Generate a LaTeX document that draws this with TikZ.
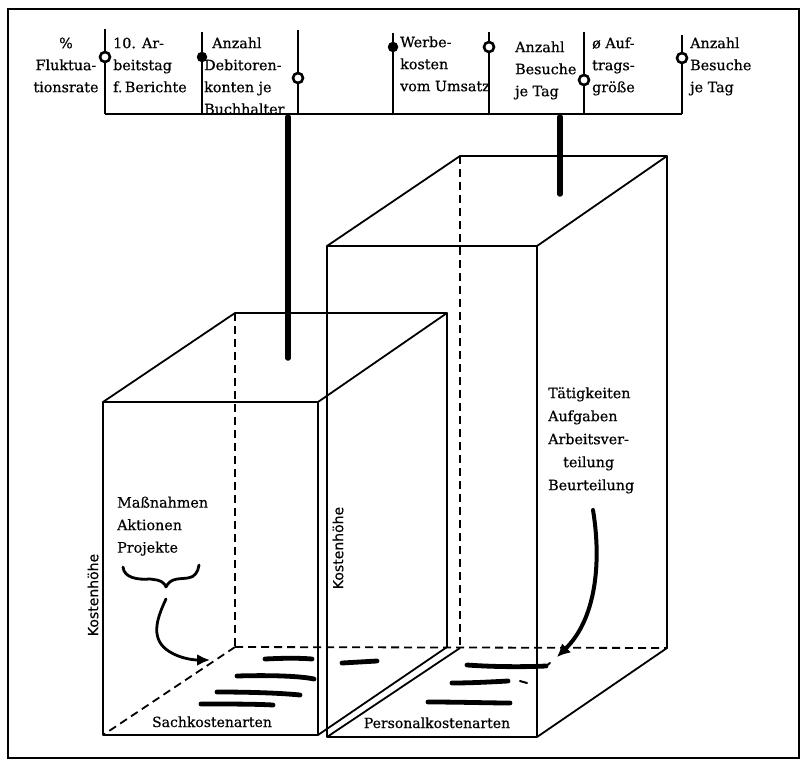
\documentclass[tikz,border=0pt]{standalone}
\usepackage{fontspec}
\setmainfont{DejaVu Serif}[FakeBold=0.5]
\newfontfamily\sansf{DejaVu Sans}[FakeBold=0.3]
\usetikzlibrary{arrows.meta}
\begin{document}
\begin{tikzpicture}[x=1pt,y=-1pt,
  frame/.style={line width=2.2pt},
  edge/.style={line width=1.8pt, line join=round},
  hidden/.style={line width=1.8pt, dash pattern=on 8pt off 5pt},
  stem/.style={line width=1.9pt},
  bar/.style={line width=1.9pt},
  thick link/.style={line width=5.5pt, line cap=round},
  ring/.style={circle, draw, line width=2.6pt, fill=white, minimum size=10pt, inner sep=0pt},
  blob/.style={circle, fill=black, minimum size=10.5pt, inner sep=0pt},
  lbl/.style={anchor=north west, inner sep=0pt, align=left, font=\fontsize{14.3}{22}\selectfont},
  clbl/.style={anchor=north, inner sep=0pt, align=center, font=\fontsize{14.3}{22}\selectfont},
  floor/.style={anchor=base, inner sep=0pt, font=\fontsize{14}{17}\selectfont},
  axis/.style={rotate=90, inner sep=0pt, font=\sansf\fontsize{14}{16}\selectfont},
  stroke/.style={line width=4.8pt, line cap=round},
  hand/.style={line width=2.8pt, line cap=round}
]
\useasboundingbox (0,0) rectangle (805,765);
\fill[white] (0,0) rectangle (805,765);
% outer frame
\draw[frame] (8,9) rectangle (799,758);

% ---- top scale ----
\coordinate (t1) at (105,29);  \coordinate (b1) at (105,114);
\coordinate (t2) at (202,32);  \coordinate (b2) at (202,114);
\coordinate (t3) at (298,30);  \coordinate (b3) at (298,114);
\coordinate (t4) at (393,33);  \coordinate (b4) at (393,114);
\coordinate (t5) at (489,32);  \coordinate (b5) at (489,114);
\coordinate (t6) at (584,32);  \coordinate (b6) at (584,114);
\coordinate (t7) at (682,35);  \coordinate (b7) at (682,114);
\foreach \i in {1,...,7} {\draw[stem] (t\i) -- (b\i);}
\draw[bar] (b1) -- (b7);

% labels of the scale
\node[clbl] (l1) at (66,32.6) {\strut\%\\Fluktua-\\tionsrate};
\node[lbl] (l2) at (113,32.6) {\strut10. Ar-\\beitstag\\f.\,Berichte};
\node[lbl] (l3) at (204,32.6) {\strut\hspace*{8pt}Anzahl\\Debitoren-\\konten je\\Buchhalter};
\node[lbl] (l4) at (400,31.6) {\strut Werbe-\\kosten\\vom Umsatz};
\node[lbl] (l5) at (515,36.6) {\strut Anzahl\\Besuche\\je Tag};
\node[lbl] (l6) at (592,32.6) {\strut ø Auf-\\trags-\\größe};
\node[lbl] (l7) at (690,32.6) {\strut Anzahl\\Besuche\\je Tag};

% markers on the stems
\node[ring] (m1) at (105,57) {};
\node[blob] (m2) at (202,57) {};
\node[ring] (m3) at (298,78) {};
\node[blob] (m4) at (393,47) {};
\node[ring] (m5) at (489,47) {};
\node[ring] (m6) at (584,80) {};
\node[ring] (m7) at (682,58) {};

% ---- left box (Sachkosten) ----
\coordinate (LFTL) at (103,402); \coordinate (LFTR) at (318,402);
\coordinate (LFBL) at (103,735); \coordinate (LFBR) at (318,735);
\coordinate (LBTL) at (235,313); \coordinate (LBTR) at (447,313);
\coordinate (LBBL) at (235,647); \coordinate (LBBR) at (447,647);

% ---- right box (Personalkosten) ----
\coordinate (RFTL) at (327,246); \coordinate (RFTR) at (537,246);
\coordinate (RFBL) at (327,737); \coordinate (RFBR) at (537,737);
\coordinate (RBTL) at (460,156); \coordinate (RBTR) at (667,156);
\coordinate (RBBL) at (460,648); \coordinate (RBBR) at (667,648);

% hidden edges
\draw[hidden] (LBTL) -- (LBBL);
\draw[hidden] (LBBL) -- (LFBL);
\draw[hidden] (LBBL) -- (RBBR);
\draw[hidden] (RBTL) -- (RBBL);

% visible edges, left box
\draw[edge] (LFTL) -- (LFTR) -- (LFBR) -- (LFBL) -- cycle;
\draw[edge] (LFTL) -- (LBTL) -- (LBTR) -- (LFTR);
\draw[edge] (LBTR) -- (LBBR) -- (LFBR);
% visible edges, right box
\draw[edge] (RFTL) -- (RFTR) -- (RFBR) -- (RFBL) -- cycle;
\draw[edge] (RFTL) -- (RBTL) -- (RBTR) -- (RFTR);
\draw[edge] (RBTR) -- (RBBR) -- (RFBR);
\draw[edge] (RBBL) -- (RFBL);

% thick links from the scale into the boxes
\coordinate (k1a) at (288,117); \coordinate (k1b) at (288,358);
\coordinate (k2a) at (560,117); \coordinate (k2b) at (560,194);
\draw[thick link] (k1a) -- (k1b);
\draw[thick link] (k2a) -- (k2b);

% axis labels
\node[axis] (ax1) at (93,595) {Kostenhöhe};
\node[axis] (ax2) at (338,548) {Kostenhöhe};

% floor labels
\node[floor] (f1) at (212,727) {Sachkostenarten};
\node[floor] (f2) at (437,728) {Personalkostenarten};

% hand-drawn cost-type strokes
\draw[stroke] (265,659) .. controls (285,658) and (300,658) .. (312,659);
\draw[stroke] (237,676) .. controls (270,675) and (300,676) .. (314,679);
\draw[stroke] (217,692) .. controls (250,692) and (280,693) .. (300,695);
\draw[stroke] (201,704) .. controls (230,704) and (255,704) .. (273,705);
\draw[stroke] (342,663) -- (377,661);
\draw[stroke] (467,665) .. controls (495,667) and (525,667) .. (546,666);
\draw[line width=2pt, line cap=round] (546,666) -- (550,663);
\draw[stroke] (452,683) .. controls (470,683) and (490,682) .. (508,681);
\draw[line width=2pt, line cap=round] (520,681) -- (527,683);
\draw[stroke] (428,702) .. controls (460,702) and (490,703) .. (510,703);

% left annotation
\node[lbl, font=\fontsize{14.3}{22.5}\selectfont] (mass) at (117,491.6) {\strut Maßnahmen\\Aktionen\\Projekte};
\draw[hand, line join=round] (123,567) .. controls (124,578) and (138,580) .. (150,579)
  -- (157,580) .. controls (162,581) and (165,584) .. (166,587)
  .. controls (168,583) and (171,580) .. (177,579) -- (188,578)
  .. controls (195,577) and (198,572) .. (199,565);
\coordinate (a1s) at (166,599); \coordinate (a1e) at (210,660);
\draw[hand, -{Latex[length=13pt,width=12pt]}] (a1s) .. controls (156,620) and (150,640) .. (170,652)
  .. controls (180,658) and (192,660) .. (a1e);

% right annotation
\node[lbl, font=\fontsize{14.3}{23}\selectfont] (task) at (548,381.9) {\strut Tätigkeiten\\Aufgaben\\Arbeitsver-\\\hspace*{15pt}teilung\\Beurteilung};
\coordinate (a2s) at (593,510); \coordinate (a2e) at (557,657);
\draw[line width=4pt, line cap=round, -{Latex[length=13pt,width=13pt]}] (a2s) .. controls (602,565) and (595,620) .. (a2e);
\end{tikzpicture}
\end{document}
